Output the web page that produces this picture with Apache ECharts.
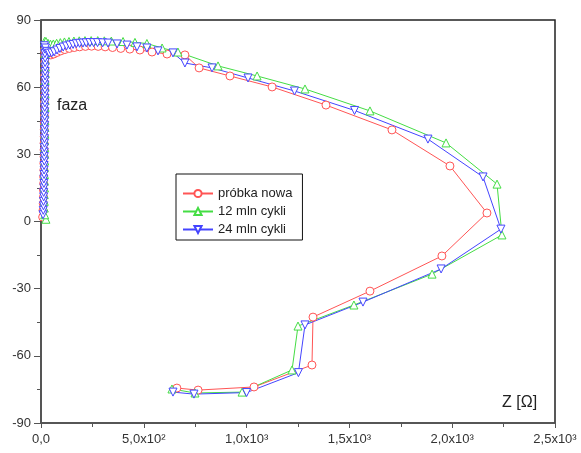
<!DOCTYPE html>
<html>
<head>
<meta charset="utf-8">
<script src="https://cdn.jsdelivr.net/npm/echarts@6/dist/echarts.min.js"></script>
<style>
  html, body { margin: 0; padding: 0; background: #ffffff; }
  #chart { width: 581px; height: 453px; }
</style>
</head>
<body>
<div id="chart"></div>
<script>
// tick labels
const xTickLabels = ['0,0', '5,0x10²', '1,0x10³', '1,5x10³', '2,0x10³', '2,5x10³'];
const seriesNames = ['próbka nowa', '12 mln cykli', '24 mln cykli'];

// [Z, phase], in curve order
const probkaNowa = [
  [8, 2], [10, 5], [11, 8], [12, 11], [12, 14], [13, 17], [13, 20], [14, 23], [14, 26], [15, 29],
  [15, 32], [15, 35], [16, 38], [16, 41], [16, 44], [17, 47], [17, 50], [17, 53], [18, 56], [18, 59],
  [18, 62], [18, 65], [19, 68], [19, 71], [18, 74], [17, 76.5], [24, 76], [34, 74.8], [48, 74.4],
  [62, 74.8], [78, 75.5], [96, 76.2], [116, 76.8], [138, 77.3], [162, 77.7], [188, 78], [216, 78.2],
  [246, 78.3], [278, 78.2], [312, 78], [348, 77.7], [388, 77.3], [432, 77], [481, 76.6], [540, 75.7],
  [613, 74.8], [700, 74.4], [769, 68.6], [919, 65], [1124, 60.1], [1386, 52], [1707, 40.9],
  [1989, 24.8], [2169, 3.8], [1950, -15.4], [1600, -31.1], [1323, -42.7], [1318, -64.1],
  [1036, -73.9], [764, -75.3], [661, -74.4]
];

const mln12 = [
  [24, 1], [18, 3], [16, 6], [16, 9], [16, 12], [17, 15], [17, 18], [17, 21], [17, 24], [18, 27],
  [18, 30], [18, 33], [18, 36], [19, 39], [19, 42], [19, 45], [19, 48], [20, 51], [20, 54], [20, 57],
  [20, 60], [20, 63], [21, 66], [21, 69], [21, 72], [20, 75], [19, 78], [18, 80.5], [24, 80.4],
  [34, 79.6], [46, 79.2], [60, 79.3], [76, 79.6], [94, 79.9], [114, 80.2], [136, 80.4], [160, 80.6],
  [186, 80.7], [214, 80.8], [244, 80.8], [276, 80.8], [308, 80.7], [342, 80.6], [399, 80.4],
  [457, 80], [515, 79.5], [589, 77.5], [666, 75.7], [861, 69.5], [1051, 65], [1284, 59.2],
  [1600, 49.4], [1970, 35.1], [2218, 16.7], [2242, -6], [1902, -23.5], [1522, -37.3],
  [1250, -46.7], [1221, -66.3], [978, -76.2], [749, -76.6], [637, -74.8]
];

const mln24 = [
  [10, 3], [11, 5], [12, 7], [12, 9], [13, 11], [13, 13], [14, 15], [14, 17], [14, 19], [15, 21],
  [15, 23], [15, 25], [16, 27], [16, 29], [16, 31], [16, 33], [17, 35], [17, 37], [17, 39], [17, 41],
  [18, 43], [18, 45], [18, 47], [18, 49], [18, 51], [19, 53], [19, 55], [19, 57], [19, 59], [19, 61],
  [19, 63], [20, 65], [20, 67], [20, 69], [20, 71], [20, 73], [19, 75], [18, 77], [17, 78.5],
  [22, 77.5], [30, 76], [40, 75.2], [52, 75.3], [64, 75.8], [78, 76.6], [92, 77.3], [108, 77.9],
  [124, 78.4], [140, 78.8], [156, 79.1], [172, 79.4], [188, 79.6], [204, 79.7], [220, 79.8],
  [238, 79.9], [256, 79.9], [275, 79.9], [300, 79.8], [326, 79.7], [370, 79.3], [418, 78.8],
  [467, 78], [515, 77.5], [569, 76.2], [642, 75.3], [700, 70.8], [832, 68.6], [1007, 64.1],
  [1233, 58.3], [1525, 49.6], [1882, 36.8], [2150, 19.9], [2237, -3.4], [1946, -21.2],
  [1566, -36], [1284, -46.2], [1252, -67.5], [1000, -76.4], [744, -77.1], [642, -76.2]
];

const labelStyle = {
  color: '#333333',
  fontSize: 13,
  fontFamily: 'Liberation Sans'
};

function lineSeries(name, data, color, symbol) {
  return {
    name: name,
    type: 'line',
    data: data,
    symbol: symbol,
    symbolSize: 8,
    showAllSymbol: true,
    animation: false,
    lineStyle: { color: color, width: 1 },
    itemStyle: { color: '#ffffff', borderColor: color, borderWidth: 1 }
  };
}

const option = {
  backgroundColor: '#ffffff',
  animation: false,
  grid: {
    left: 41,
    right: 26,
    top: 20,
    bottom: 30,
    show: true,
    borderColor: '#222222',
    borderWidth: 1.5
  },
  legend: {
    orient: 'vertical',
    left: 176,
    top: 174,
    width: 129,
    padding: [13, 10, 4, 6],
    itemWidth: 30,
    itemHeight: 9,
    itemGap: 5,
    borderColor: '#111111',
    borderWidth: 1,
    backgroundColor: '#ffffff',
    textStyle: { color: '#222222', fontSize: 13, fontFamily: 'Liberation Sans', lineHeight: 13 },
    data: seriesNames
  },
  xAxis: {
    type: 'value',
    min: 0,
    max: 2500,
    interval: 500,
    axisLine: { show: true, onZero: false, lineStyle: { color: '#555555', width: 1.5 } },
    axisTick: { show: true, length: 5, lineStyle: { color: '#555555', width: 1 } },
    minorTick: { show: true, splitNumber: 2, length: 4, lineStyle: { color: '#555555', width: 1 } },
    splitLine: { show: false },
    axisLabel: {
      ...labelStyle,
      margin: 10,
      formatter: function (value) {
        return xTickLabels[Math.round(value / 500)];
      }
    }
  },
  yAxis: {
    type: 'value',
    min: -90,
    max: 90,
    interval: 30,
    axisLine: { show: true, onZero: false, lineStyle: { color: '#555555', width: 1.5 } },
    axisTick: { show: true, length: 7, lineStyle: { color: '#555555', width: 1 } },
    minorTick: { show: true, splitNumber: 2, length: 4, lineStyle: { color: '#555555', width: 1 } },
    splitLine: { show: false },
    axisLabel: { ...labelStyle, margin: 10 }
  },
  graphic: [
    {
      type: 'text',
      left: 57,
      top: 98,
      style: { text: 'faza', fill: '#222222', font: '16px "Liberation Sans"' }
    },
    {
      type: 'text',
      left: 502,
      top: 395,
      style: { text: 'Z [Ω]', fill: '#222222', font: '16px "Liberation Sans"' }
    }
  ],
  series: [
    lineSeries(seriesNames[0], probkaNowa, '#ff5555', 'circle'),
    lineSeries(seriesNames[1], mln12, '#44dd44', 'triangle'),
    lineSeries(seriesNames[2], mln24, '#4444ff', 'path://M0,0 L10,0 L5,10 Z')
  ]
};

var chartDom = document.getElementById('chart');
var myChart = echarts.init(chartDom);
myChart.setOption(option);
</script>
</body>
</html>
